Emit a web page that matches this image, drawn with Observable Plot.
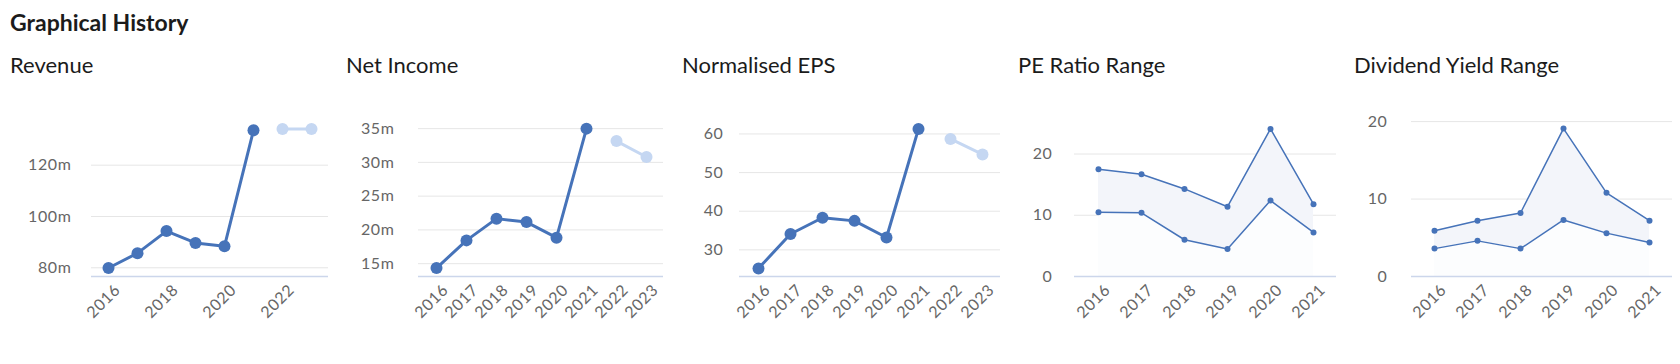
<!DOCTYPE html>
<html><head><meta charset="utf-8">
<script src="https://cdn.jsdelivr.net/npm/d3@7"></script>
<script src="https://cdn.jsdelivr.net/npm/@observablehq/plot@0.6"></script>
<style>
body{margin:0;background:#fff;font-family:Lato,sans-serif;}
#root{position:relative;width:1680px;height:364px;overflow:hidden;background:#fff}
#title{position:absolute;left:10px;top:11px;font:bold 23px/23px Lato,sans-serif;color:#1b1b1b;white-space:nowrap}
.panel{position:absolute;top:0;width:336px;height:364px}
.sub{position:absolute;left:10px;top:54px;font:22px/22px Lato,sans-serif;color:#1b1b1b;white-space:nowrap}
.chart{position:absolute;left:0;top:90px}
.chart svg text{letter-spacing:0.6px}
</style>
</head><body>
<div id="root"><div id="title">Graphical History</div></div>
<script>
// ---- data ----
const titles = ["Revenue", "Net Income", "Normalised EPS", "PE Ratio Range", "Dividend Yield Range"];
const actualYears = ["2016", "2017", "2018", "2019", "2020", "2021"];
const forecastYears = ["2022", "2023"];
const allYears = actualYears.concat(forecastYears);

const revenueActual = [79.9, 85.7, 94.3, 89.7, 88.4, 133.6];
const revenueForecast = [134.1, 134.1];
const revenueTicks = [80, 100, 120];
const revenueXTicks = ["2016", "2018", "2020", "2022"];

const netIncomeActual = [14.35, 18.45, 21.67, 21.16, 18.85, 35.0];
const netIncomeForecast = [33.16, 30.8];
const netIncomeTicks = [15, 20, 25, 30, 35];

const epsActual = [25.2, 34.1, 38.3, 37.5, 33.2, 61.3];
const epsForecast = [58.7, 54.7];
const epsTicks = [30, 40, 50, 60];

const peHigh = [17.5, 16.7, 14.3, 11.4, 24.1, 11.8];
const peLow = [10.5, 10.4, 6.0, 4.5, 12.4, 7.2];
const peTicks = [0, 10, 20];

const divHigh = [5.9, 7.2, 8.2, 19.1, 10.8, 7.2];
const divLow = [3.6, 4.6, 3.6, 7.3, 5.6, 4.4];
const divTicks = [0, 10, 20];

// y-domains (axis extents)
const yDomains = [[76.6, 138.2], [13.1, 36.5], [23.1, 64.0], [0, 25.8], [0, 20.4]];

// ---- styling ----
const BLUE = "#4673b9", LIGHT = "#c5d7f2", GRID = "#e6e6e6", AXIS = "#ccd6eb";
const W = 336, H = 274;
const layout = [
  {ml: 91, mr: 8, pad: 20},
  {ml: 82, mr: 9, pad: 24},
  {ml: 67, mr: 8, pad: 16},
  {ml: 66, mr: 8, pad: 22},
  {ml: 67, mr: 8, pad: 24}
];

const root = document.getElementById("root");
function panel(i, svg) {
  const p = document.createElement("div");
  p.className = "panel";
  p.style.left = (i * W) + "px";
  const s = document.createElement("div");
  s.className = "sub";
  s.textContent = titles[i];
  p.appendChild(s);
  const c = document.createElement("div");
  c.className = "chart";
  c.appendChild(svg);
  p.appendChild(c);
  root.appendChild(p);
}

function base(i, xDomain, yTicks, fmt, xTicks, marks) {
  const L = layout[i];
  return Plot.plot({
    width: W, height: H,
    marginLeft: L.ml, marginRight: L.mr, marginTop: 28, marginBottom: 88,
    style: {fontFamily: "Lato, sans-serif", fontSize: "16px", color: "#666", background: "transparent"},
    x: {type: "point", domain: xDomain, padding: 0.5},
    y: {domain: yDomains[i]},
    marks: [
      Plot.gridY(yTicks, {stroke: GRID, strokeOpacity: 1, strokeWidth: 1}),
      Plot.axisY(yTicks, {tickSize: 0, tickPadding: L.pad, tickFormat: fmt, fill: "#666", label: null}),
      Plot.axisX(xTicks, {tickSize: 0, tickRotate: -45, tickPadding: 11, dx: 9, fill: "#666", label: null}),
      ...marks,
      Plot.ruleY([yDomains[i][0]], {stroke: AXIS, strokeWidth: 1.5})
    ]
  });
}

function linePanel(i, actual, forecast, yTicks, fmt, xTicks) {
  const a = actualYears.map((y, k) => ({year: y, v: actual[k]}));
  const f = forecastYears.map((y, k) => ({year: y, v: forecast[k]}));
  const svg = base(i, allYears, yTicks, fmt, xTicks, [
    Plot.line(a, {x: "year", y: "v", stroke: BLUE, strokeWidth: 3}),
    Plot.dot(a, {x: "year", y: "v", r: 6, fill: BLUE}),
    Plot.line(f, {x: "year", y: "v", stroke: LIGHT, strokeWidth: 3}),
    Plot.dot(f, {x: "year", y: "v", r: 6, fill: LIGHT})
  ]);
  panel(i, svg);
}

function rangePanel(i, hi, lo, yTicks) {
  const d = actualYears.map((y, k) => ({year: y, hi: hi[k], lo: lo[k]}));
  const svg = base(i, actualYears, yTicks, d3.format("d"), actualYears, [
    Plot.areaY(d, {x: "year", y1: 0, y2: "lo", fill: "#fcfdfe"}),
    Plot.areaY(d, {x: "year", y1: "lo", y2: "hi", fill: "#f3f5fa"}),
    Plot.line(d, {x: "year", y: "hi", stroke: BLUE, strokeWidth: 1.5}),
    Plot.line(d, {x: "year", y: "lo", stroke: BLUE, strokeWidth: 1.5}),
    Plot.dot(d, {x: "year", y: "hi", r: 3, fill: BLUE}),
    Plot.dot(d, {x: "year", y: "lo", r: 3, fill: BLUE})
  ]);
  panel(i, svg);
}

const mfmt = d => d + "m";
linePanel(0, revenueActual, revenueForecast, revenueTicks, mfmt, revenueXTicks);
linePanel(1, netIncomeActual, netIncomeForecast, netIncomeTicks, mfmt, allYears);
linePanel(2, epsActual, epsForecast, epsTicks, d3.format("d"), allYears);
rangePanel(3, peHigh, peLow, peTicks);
rangePanel(4, divHigh, divLow, divTicks);
</script>
</body></html>
